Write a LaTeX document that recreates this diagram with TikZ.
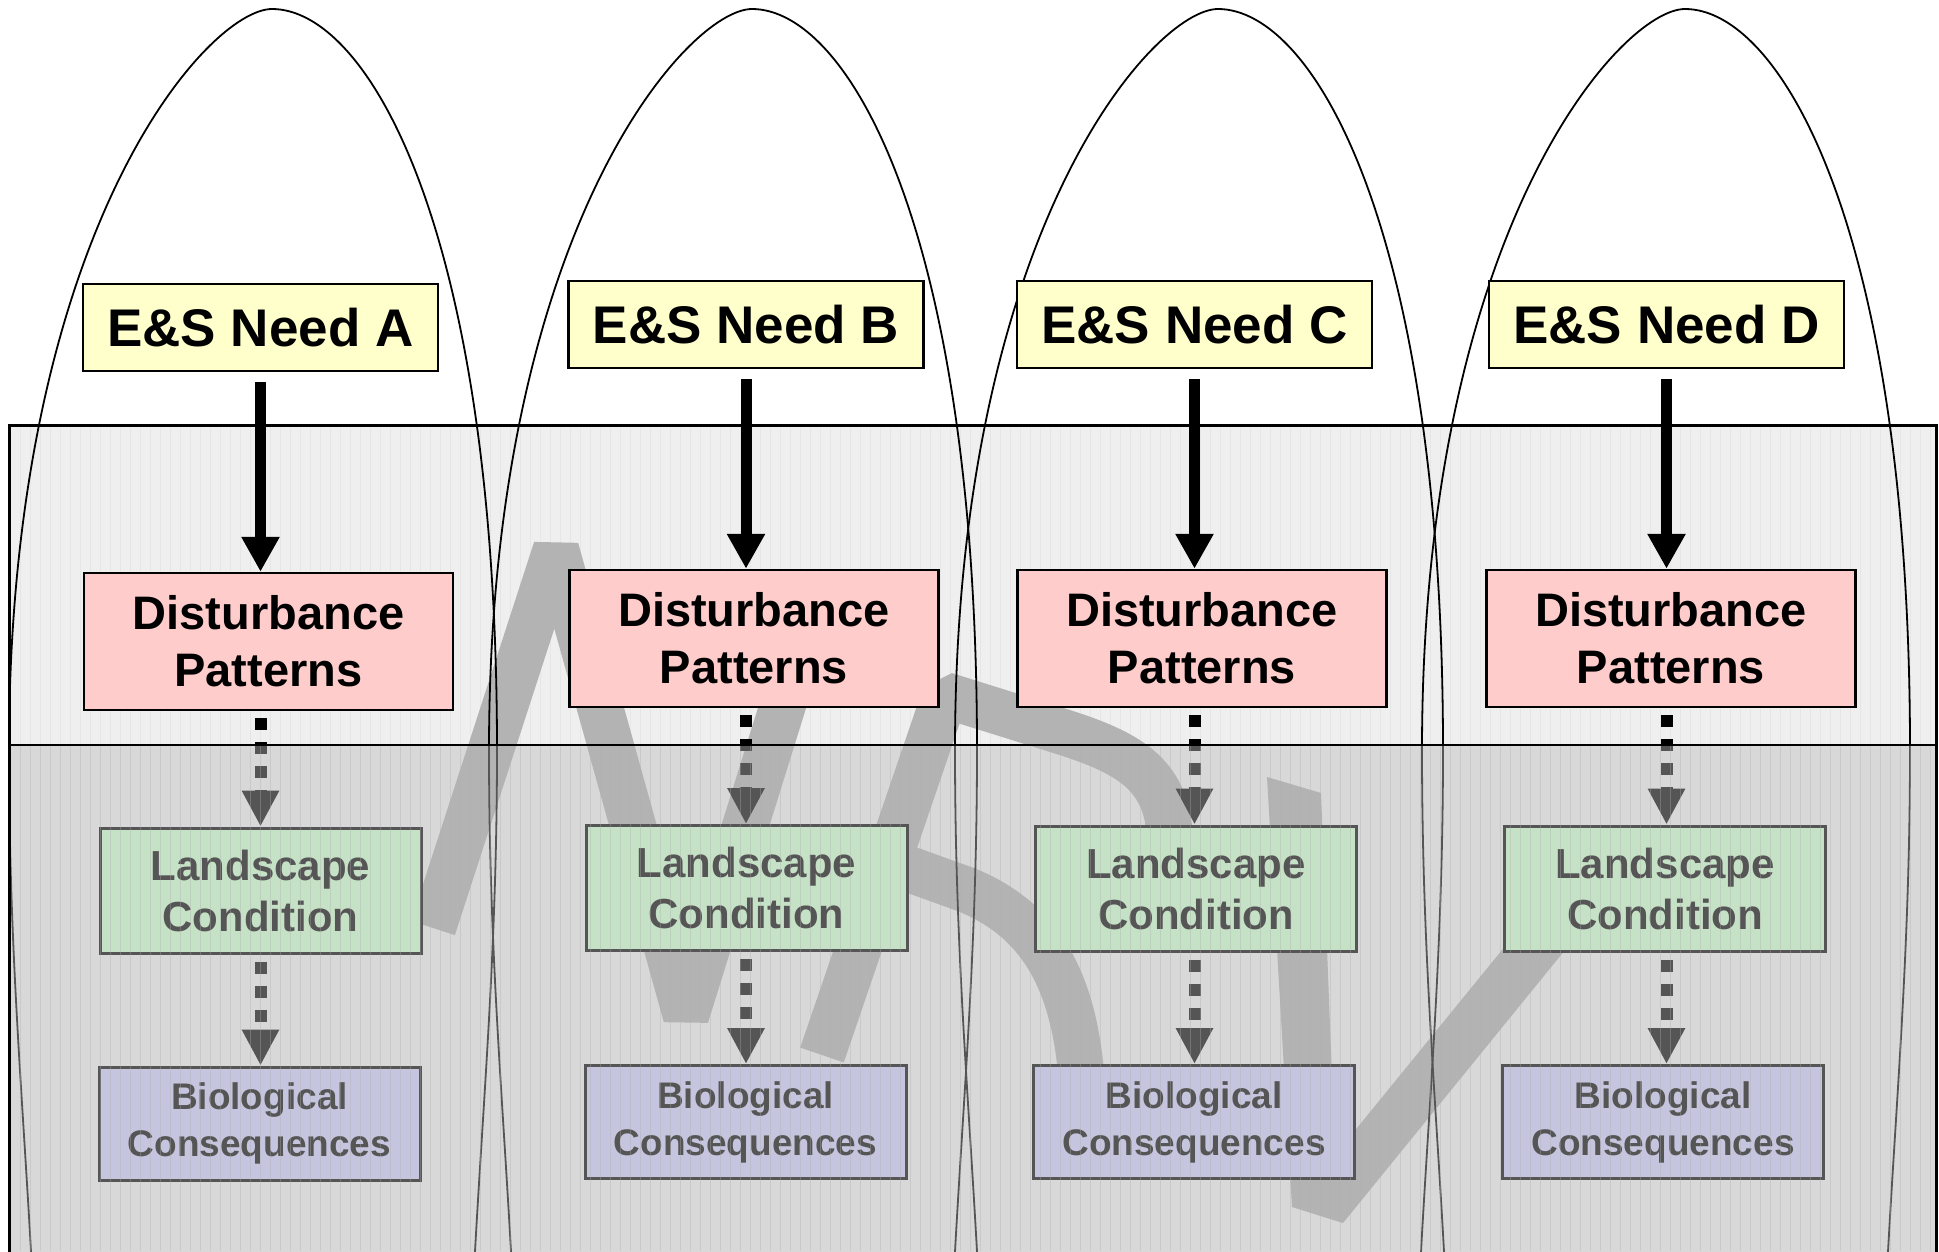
\documentclass[tikz,border=0pt]{standalone}
\usepackage{fontspec}
\setmainfont{Liberation Sans}
\usetikzlibrary{arrows.meta}
\definecolor{needyellow}{RGB}{255,255,204}
\definecolor{distpink}{RGB}{255,204,204}
\definecolor{landgreen}{RGB}{198,226,198}
\definecolor{biopurple}{RGB}{197,197,223}
\definecolor{lowgray}{RGB}{85,85,85}
\definecolor{bandgray}{RGB}{179,179,179}
\definecolor{upbg}{RGB}{239,239,239}
\definecolor{lowbg}{RGB}{216,216,216}
\definecolor{upgrid}{RGB}{230,230,230}
\definecolor{lowgrid}{RGB}{175,175,175}
\newcommand\archpath[1]{({#1-226},1270) .. controls ({#1-235},1100) and ({#1-249},950) .. ({#1-249},750)
  .. controls ({#1-249},230) and ({#1-50},9) .. ({#1+14},9)
  .. controls ({#1+110},9) and ({#1+239},230) .. ({#1+239},750)
  .. controls ({#1+239},950) and ({#1+225},1100) .. ({#1+216},1270)}
\begin{document}
\begin{tikzpicture}[x=1pt,y=-1pt,
  needbox/.style={draw=black, line width=2.5pt, fill=needyellow, minimum width=355pt, minimum height=87pt, inner sep=0pt, font=\fontsize{53}{60}\selectfont\bfseries},
  distbox/.style={draw=black, line width=2.5pt, fill=distpink, minimum width=369pt, minimum height=137pt, inner sep=0pt, align=center, font=\fontsize{47}{57}\selectfont\bfseries},
  landbox/.style={draw=lowgray, line width=3pt, fill=landgreen, text=lowgray, minimum width=321pt, minimum height=125pt, inner sep=0pt, align=center, font=\fontsize{42}{51}\selectfont\bfseries},
  biobox/.style={draw=lowgray, line width=3pt, fill=biopurple, text=lowgray, minimum width=321pt, minimum height=113pt, inner sep=0pt, align=center, font=\fontsize{37}{47}\selectfont\bfseries},
  solidarrow/.style={line width=11pt, -{Triangle[width=36pt,length=35pt]}, shorten <=10pt},
  dotarrow/.style={line width=12pt, dash pattern=on 12pt off 12pt, -{Triangle[width=35pt,length=36pt]}, shorten <=7pt},
  band/.style={line width=46pt, draw=bandgray, line join=bevel, line cap=butt},
  archline/.style={line width=1.8pt}
]
\useasboundingbox (0,0) rectangle (1939,1251);
\fill[white] (0,0) rectangle (1939,1251);
% background bands
\fill[upbg] (9.5,425) rectangle (1936,745);
\fill[lowbg] (9.5,745) rectangle (1936,1260);
\draw[upgrid, line width=0.8pt, step=10] (9.5,425) grid (1936,745);
% grey thread
\draw[band] (433,928) -- (556,549) -- (686,1016) -- (782,708) -- (812,612);
\draw[band] (822,1055) -- (945,695) -- (1060,731) .. controls (1130,753) and (1170,775) .. (1170,845);
\draw[band] (870,855) -- (967,890) .. controls (1040,920) and (1075,980) .. (1082,1085);
\fill[bandgray] (1267,777) -- (1321,793) -- (1335,1155) -- (1502,950) -- (1550,891) -- (1613,891) -- (1565,950) -- (1343,1223) -- (1292,1207) -- cycle;
% arches
\begin{scope}
  \clip (0,0) rectangle (1939,745);
  \foreach \c in {258,738,1204,1671} {
    \draw[archline, black] \archpath{\c};
  }
\end{scope}
\begin{scope}
  \clip (0,745) rectangle (1939,1251);
  \foreach \c in {258,738,1204,1671} {
    \draw[archline, lowgray] \archpath{\c};
  }
\end{scope}
% boxes
\node[needbox] (ya) at (260.5,327.5) {E\&S Need A};
\node[needbox] (yb) at (746,324.5) {E\&S Need B};
\node[needbox] (yc) at (1194.5,324.5) {E\&S Need C};
\node[needbox] (yd) at (1666.5,324.5) {E\&S Need D};
\node[distbox] (pa) at (268.5,641.5) {Disturbance\\Patterns};
\node[distbox] (pb) at (754,638.5) {Disturbance\\Patterns};
\node[distbox] (pc) at (1202,638.5) {Disturbance\\Patterns};
\node[distbox] (pd) at (1671,638.5) {Disturbance\\Patterns};
\node[landbox] (la) at (260.5,890.5) {Landscape\\Condition};
\node[landbox] (lb) at (746.5,888) {Landscape\\Condition};
\node[landbox] (lc) at (1196,888.5) {Landscape\\Condition};
\node[landbox] (ld) at (1665,888.5) {Landscape\\Condition};
\node[biobox] (ba) at (259.5,1123.5) {Biological\\Consequences};
\node[biobox] (bb) at (745.5,1122) {Biological\\Consequences};
\node[biobox] (bc) at (1194,1122) {Biological\\Consequences};
\node[biobox] (bd) at (1663,1122) {Biological\\Consequences};
% solid arrows
\foreach \n in {a,b,c,d} {
  \draw[solidarrow] (y\n.south) -- (y\n.south |- p\n.north);
}
% dotted arrows
\begin{scope}
  \clip (0,0) rectangle (1939,745);
  \foreach \n in {a,b,c,d} {
    \draw[dotarrow, black] (y\n.south |- p\n.south) -- (y\n.south |- l\n.north);
  }
\end{scope}
\begin{scope}
  \clip (0,745) rectangle (1939,1251);
  \foreach \n in {a,b,c,d} {
    \draw[dotarrow, lowgray] (y\n.south |- p\n.south) -- (y\n.south |- l\n.north);
    \draw[dotarrow, lowgray] (y\n.south |- l\n.south) -- (y\n.south |- b\n.north);
  }
\end{scope}
% texture over the lower band
\draw[lowgrid, line width=0.8pt, opacity=0.35, step=10] (9.5,745) grid (1936,1251);
% frame
\draw[line width=3pt] (9.5,1260) -- (9.5,425) -- (1936,425) -- (1936,1260);
\draw[line width=2.5pt] (9.5,745) -- (1936,745);
\end{tikzpicture}
\end{document}
